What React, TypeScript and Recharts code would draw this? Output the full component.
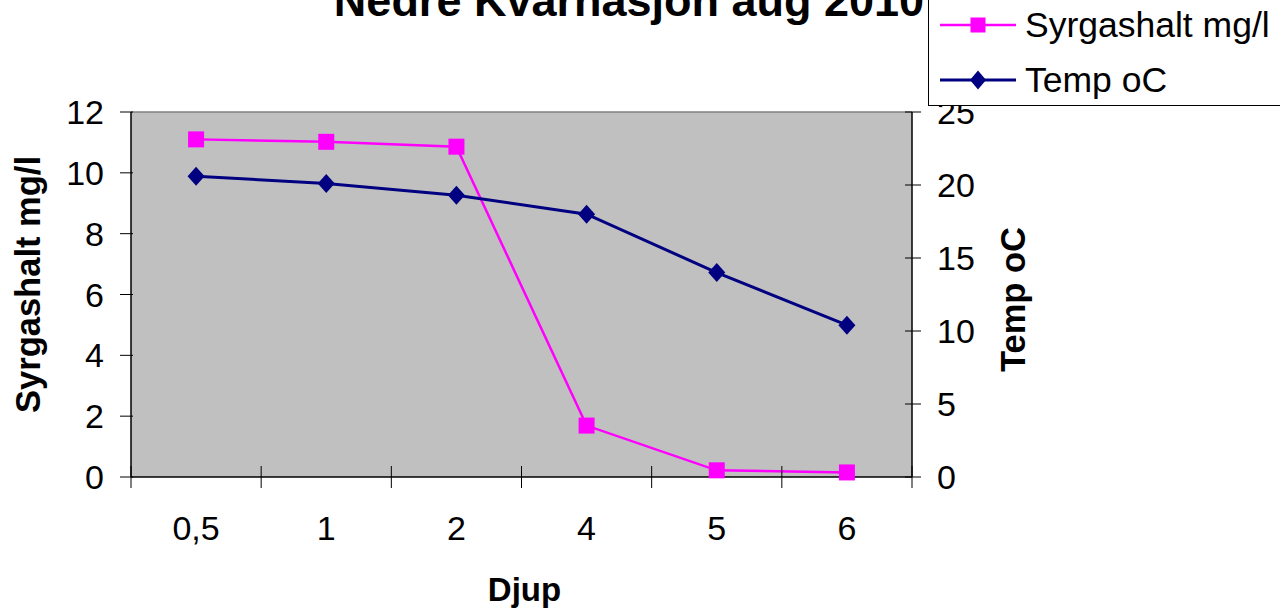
import {
  CartesianGrid,
  Label,
  Legend,
  Line,
  LineChart,
  ReferenceLine,
  XAxis,
  YAxis,
} from "recharts";

const depths = ["0,5", "1", "2", "4", "5", "6"];
const syrgashalt = [11.1, 11.02, 10.86, 1.69, 0.22, 0.15];
const temp = [20.6, 20.1, 19.3, 18.0, 14.0, 10.4];
const leftTicks = [0, 2, 4, 6, 8, 10, 12];
const rightTicks = [0, 5, 10, 15, 20, 25];

const font = "'Liberation Sans', Arial, sans-serif";
const MAGENTA = "#FF00FF";
const NAVY = "#000080";

// x position is the band centre of each depth category
const data = depths.map((d, i) => ({
  pos: i + 0.5,
  depth: d,
  syrgashalt: syrgashalt[i],
  temp: temp[i],
}));

const xTicks = Array.from({ length: depths.length * 2 + 1 }, (_, i) => i / 2);

const Square = ({ cx, cy, size = 16 }: any) => (
  <rect x={cx - size / 2} y={cy - size / 2} width={size} height={size} fill={MAGENTA} />
);

const Diamond = ({ cx, cy, w = 17, h = 19 }: any) => (
  <polygon
    points={`${cx},${cy - h / 2} ${cx + w / 2},${cy} ${cx},${cy + h / 2} ${cx - w / 2},${cy}`}
    fill={NAVY}
  />
);

const LeftTick = ({ x, y, payload }: any) => (
  <g>
    <line x1={x - 11} x2={x + 2} y1={y} y2={y} stroke="#000" />
    <text x={x - 27} y={y + 12} textAnchor="end" fontSize={34} fontFamily={font} fill="#000">
      {payload.value}
    </text>
  </g>
);

const RightTick = ({ x, y, payload }: any) => (
  <g>
    <line x1={x - 7} x2={x + 9} y1={y} y2={y} stroke="#000" />
    <text x={x + 25} y={y + 12} textAnchor="start" fontSize={34} fontFamily={font} fill="#000">
      {payload.value}
    </text>
  </g>
);

const BottomTick = ({ x, y, payload }: any) => {
  const v = payload.value;
  if (Number.isInteger(v)) {
    return <line x1={x} x2={x} y1={y - 11} y2={y + 11} stroke="#000" />;
  }
  return (
    <text x={x} y={y + 63} textAnchor="middle" fontSize={34} fontFamily={font} fill="#000">
      {depths[Math.floor(v)]}
    </text>
  );
};

const LegendBox = ({ payload }: any) => (
  <div
    style={{
      width: 360,
      height: 117,
      border: "1px solid #000",
      background: "#fff",
      boxSizing: "border-box",
      position: "relative",
      fontFamily: font,
    }}
  >
    {(payload || []).map((entry: any, i: number) => {
      const isTemp = entry.dataKey === "temp";
      const color = isTemp ? NAVY : MAGENTA;
      return (
        <div
          key={entry.value}
          style={{
            position: "absolute",
            left: 11,
            top: 19 + i * 55,
            height: 32,
            display: "flex",
            alignItems: "center",
            whiteSpace: "nowrap",
          }}
        >
          <svg width={76} height={32}>
            <line x1={0} x2={76} y1={16} y2={16} stroke={color} strokeWidth={isTemp ? 3 : 2.5} />
            {isTemp ? <Diamond cx={38} cy={16} w={16} h={19} /> : <Square cx={38} cy={16} size={15} />}
          </svg>
          <span style={{ marginLeft: 9, fontSize: 35.5, color: "#000", lineHeight: "32px" }}>
            {entry.value}
          </span>
        </div>
      );
    })}
  </div>
);

const App = () => (
  <div
    style={{
      position: "absolute",
      left: 0,
      top: 0,
      width: 1280,
      height: 615,
      overflow: "hidden",
      background: "#fff",
    }}
  >
    <LineChart width={1280} height={615} data={data} margin={{ top: 112, right: 0, bottom: 0, left: 0 }}>
      <CartesianGrid fill="#C0C0C0" fillOpacity={1} horizontal={false} vertical={false} />
      <XAxis
        dataKey="pos"
        type="number"
        domain={[0, 6]}
        ticks={xTicks}
        interval={0}
        height={138}
        stroke="#000"
        strokeWidth={1.5}
        tickLine={false}
        tickSize={0}
        tickMargin={0}
        tick={<BottomTick />}
      >
        <Label
          content={({ viewBox }: any) => (
            <text
              x={viewBox.x + viewBox.width / 2 + 3}
              y={viewBox.y + 124}
              textAnchor="middle"
              fontSize={33}
              fontWeight="bold"
              fontFamily={font}
              fill="#000"
            >
              Djup
            </text>
          )}
        />
      </XAxis>
      <YAxis
        yAxisId="left"
        domain={[0, 12]}
        ticks={leftTicks}
        interval={0}
        width={131}
        stroke="#000"
        strokeWidth={1.5}
        tickLine={false}
        tickSize={0}
        tickMargin={0}
        tick={<LeftTick />}
      >
        <Label
          content={({ viewBox }: any) => {
            const cx = viewBox.x + 28;
            const cy = viewBox.y + viewBox.height / 2 - 10;
            return (
              <text
                x={cx}
                y={cy}
                transform={`rotate(-90, ${cx}, ${cy})`}
                textAnchor="middle"
                dominantBaseline="central"
                fontSize={34.5}
                fontWeight="bold"
                fontFamily={font}
                fill="#000"
              >
                Syrgashalt mg/l
              </text>
            );
          }}
        />
      </YAxis>
      <YAxis
        yAxisId="right"
        orientation="right"
        domain={[0, 25]}
        ticks={rightTicks}
        interval={0}
        width={368}
        stroke="#000"
        strokeWidth={1.5}
        tickLine={false}
        tickSize={0}
        tickMargin={0}
        tick={<RightTick />}
      >
        <Label
          content={({ viewBox }: any) => {
            const cx = viewBox.x + 101;
            const cy = viewBox.y + viewBox.height / 2 + 5;
            return (
              <text
                x={cx}
                y={cy}
                transform={`rotate(-90, ${cx}, ${cy})`}
                textAnchor="middle"
                dominantBaseline="central"
                fontSize={34.5}
                fontWeight="bold"
                fontFamily={font}
                fill="#000"
              >
                Temp oC
              </text>
            );
          }}
        />
      </YAxis>
      <ReferenceLine yAxisId="left" y={12} stroke="#808080" strokeWidth={1.5} />
      <Legend
        layout="horizontal"
        verticalAlign="middle"
        align="center"
        content={<LegendBox />}
        wrapperStyle={{ left: 928, top: -11, width: 360 }}
      />
      <Line
        yAxisId="left"
        dataKey="syrgashalt"
        name="Syrgashalt mg/l"
        stroke={MAGENTA}
        strokeWidth={2.5}
        isAnimationActive={false}
        dot={(p: any) => <Square key={`s${p.index}`} cx={p.cx} cy={p.cy} />}
      />
      <Line
        yAxisId="right"
        dataKey="temp"
        name="Temp oC"
        stroke={NAVY}
        strokeWidth={3}
        isAnimationActive={false}
        dot={(p: any) => <Diamond key={`t${p.index}`} cx={p.cx} cy={p.cy} />}
      />
    </LineChart>
    <div
      style={{
        position: "absolute",
        left: 0,
        top: -22,
        width: 1258,
        textAlign: "center",
        fontFamily: font,
        fontWeight: "bold",
        fontSize: 45,
        lineHeight: "45px",
        color: "#000",
        whiteSpace: "nowrap",
      }}
    >
      Nedre Kvarnasjön aug 2010
    </div>
  </div>
);

export default App;
